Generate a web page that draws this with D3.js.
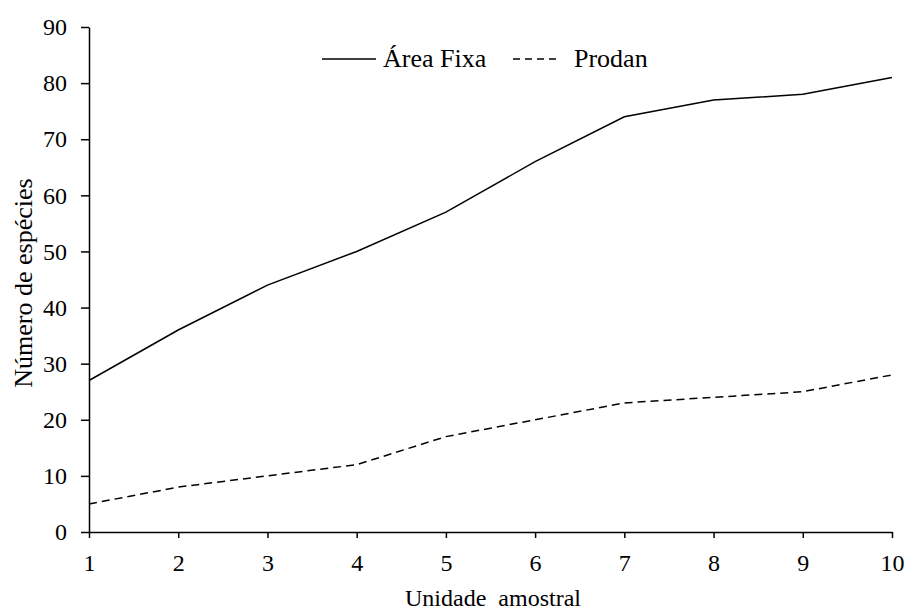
<!DOCTYPE html>
<html>
<head>
<meta charset="utf-8">
<script src="https://cdn.jsdelivr.net/npm/d3@7"></script>
<style>
  body { margin: 0; background: #fff; }
  svg text { font-family: "Liberation Serif", "Times New Roman", serif; fill: #000; }
</style>
</head>
<body>
<svg id="chart" width="910" height="610"></svg>
<script>
// data
const unidades = [1, 2, 3, 4, 5, 6, 7, 8, 9, 10];
const areaFixa = [27, 36, 44, 50, 57, 66, 74, 77, 78, 81];
const prodan = [5, 8, 10, 12, 17, 20, 23, 24, 25, 28];
const yTicks = [0, 10, 20, 30, 40, 50, 60, 70, 80, 90];
const seriesNames = ['Área Fixa', 'Prodan'];

const svg = d3.select('#chart');

let x = d3.scaleLinear().domain([1, 10]).range([89, 892]);
let y = d3.scaleLinear().domain([0, 90]).range([532, 27]);

// axes
let xAxis = svg.append('g').attr('transform', 'translate(0,532)')
    .call(d3.axisBottom(x).tickValues(unidades).tickFormat(d3.format('d')).tickSize(6).tickSizeOuter(0).tickPadding(16));
let yAxis = svg.append('g').attr('transform', 'translate(89,0)')
    .call(d3.axisLeft(y).tickValues(yTicks).tickSize(8).tickSizeOuter(0).tickPadding(14));

[xAxis, yAxis].forEach(a => {
    a.selectAll('path, line').attr('stroke', '#000').attr('stroke-width', 1.5);
    a.selectAll('text').style('font-size', '24px');
});

// lines
let line = d3.line().x((d, i) => x(unidades[i])).y(d => y(d));

svg.append('path').datum(areaFixa)
    .attr('d', line).attr('fill', 'none')
    .attr('stroke', '#000').attr('stroke-width', 1.5);

svg.append('path').datum(prodan)
    .attr('d', line).attr('fill', 'none')
    .attr('stroke', '#000').attr('stroke-width', 1.5)
    .attr('stroke-dasharray', '8,5');

// legend
let legend = svg.append('g');
legend.append('line').attr('x1', 322).attr('x2', 376).attr('y1', 59).attr('y2', 59)
    .attr('stroke', '#000').attr('stroke-width', 1.5);
legend.append('text').attr('x', 383).attr('y', 67).style('font-size', '26px').text(seriesNames[0]);
legend.append('line').attr('x1', 513).attr('x2', 557).attr('y1', 59).attr('y2', 59)
    .attr('stroke', '#000').attr('stroke-width', 1.5).attr('stroke-dasharray', '7,5');
legend.append('text').attr('x', 574).attr('y', 67).style('font-size', '26px').text(seriesNames[1]);

// axis titles
svg.append('text')
    .attr('x', 493).attr('y', 606)
    .attr('text-anchor', 'middle')
    .style('font-size', '24px').style('white-space', 'pre')
    .text('Unidade  amostral');

svg.append('text')
    .attr('transform', 'translate(32,283) rotate(-90)')
    .attr('text-anchor', 'middle')
    .style('font-size', '26px')
    .text('Número de espécies');
</script>
</body>
</html>
